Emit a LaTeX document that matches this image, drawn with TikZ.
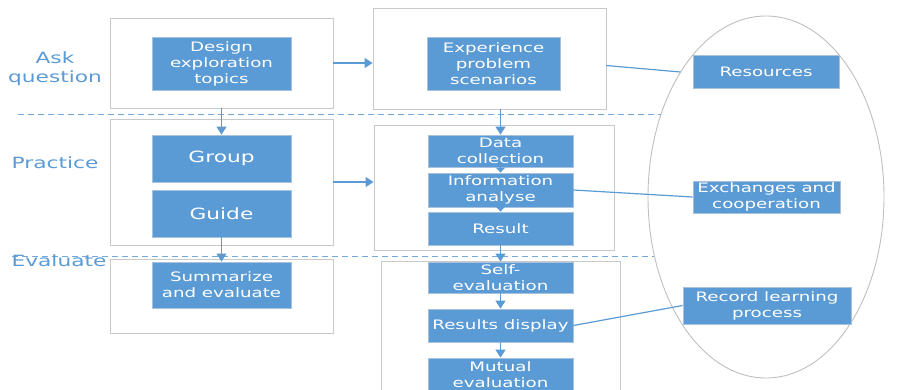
\documentclass[tikz,border=0pt]{standalone}
\usepackage{fontspec}
\setmainfont{DejaVu Sans}[FakeStretch=1.4]
\usetikzlibrary{arrows.meta,shapes.geometric,shadows}
\definecolor{bblue}{HTML}{5B9BD5}
\definecolor{bedge}{HTML}{A8C2DE}
\definecolor{ogrey}{HTML}{C9C9C9}
\definecolor{egrey}{HTML}{BFBFBF}
\begin{document}
\begin{tikzpicture}[x=1pt,y=-1pt,
  outerbox/.style={draw=ogrey, line width=0.9pt, fill=white, inner sep=0pt,
    drop shadow={shadow xshift=1.2pt,shadow yshift=-1.2pt,opacity=0.12,fill=black}},
  bbox/.style={draw=bedge, line width=0.8pt, fill=bblue, text=white, align=center,
    inner sep=0pt, font=\fontsize{13}{16}\selectfont},
  bigbox/.style={bbox, font=\fontsize{15.5}{19}\selectfont},
  lbl/.style={text=bblue, align=center, inner sep=0pt, font=\fontsize{15.5}{19}\selectfont},
  conn/.style={draw=bblue, line width=1.2pt},
  arr/.style={conn, -{Triangle[width=10pt,length=8pt]}},
  sarr/.style={conn, -{Triangle[width=9pt,length=5pt]}},
  sepline/.style={draw=bblue!85, line width=1pt, dash pattern=on 6pt off 4pt},
  oval/.style={ellipse, draw=egrey, line width=0.9pt, inner sep=0pt}
]
\useasboundingbox (0,0) rectangle (907,389);

% ellipse
\node[oval, minimum width=236pt, minimum height=362pt] (el) at (766,197) {};

% separators
\coordinate (s1a) at (18,114);
\coordinate (s1b) at (661,114);
\coordinate (s2a) at (12,256);
\coordinate (s2b) at (654,256);
\draw[sepline] (s1a) -- (s1b);
\draw[sepline] (s2a) -- (s2b);

% outer boxes
\node[outerbox, minimum width=223pt, minimum height=90pt] (A1) at (221.5,63) {};
\node[outerbox, minimum width=233pt, minimum height=101pt] (A2) at (489.5,58.5) {};
\node[outerbox, minimum width=223pt, minimum height=126pt] (P1) at (221.5,182) {};
\node[outerbox, minimum width=240pt, minimum height=125pt] (P2) at (494,187.5) {};
\node[outerbox, minimum width=223pt, minimum height=74pt] (E1) at (221.5,296) {};
\node[outerbox, minimum width=239pt, minimum height=139pt] (E2) at (500.5,330.5) {};

% labels
\node[lbl] (lAsk) at (55,69) {Ask\\question};
\node[lbl] (lPr) at (55,163) {Practice};
\node[lbl] (lEv) at (59,261) {Evaluate};

% blue boxes
\node[bbox, minimum width=139pt, minimum height=53pt] (D) at (221.5,63.5) {Design\\exploration\\topics};
\node[bbox, minimum width=133pt, minimum height=53pt] (X) at (493.5,63.5) {Experience\\problem\\scenarios};
\node[bbox, minimum width=146pt, minimum height=33pt] (R) at (766,71.5) {Resources};
\node[bigbox, minimum width=139pt, minimum height=47pt] (G) at (221.5,158.5) {Group};
\node[bigbox, minimum width=139pt, minimum height=47pt] (Gu) at (221.5,213.5) {Guide};
\node[bbox, minimum width=145pt, minimum height=32pt] (DC) at (500.5,151) {Data\\collection};
\node[bbox, minimum width=145pt, minimum height=34pt] (IA) at (500.5,190) {Information\\analyse};
\node[bbox, minimum width=145pt, minimum height=33pt] (RS) at (500.5,228.5) {Result};
\node[bbox, minimum width=147pt, minimum height=32pt] (EC) at (766.5,197) {Exchanges and\\cooperation};
\node[bbox, minimum width=139pt, minimum height=46pt] (SE) at (221.5,285) {Summarize\\and evaluate};
\node[bbox, minimum width=145pt, minimum height=31pt] (SF) at (500.5,277.5) {Self-\\evaluation};
\node[bbox, minimum width=145pt, minimum height=33pt] (RD) at (500.5,325.5) {Results display};
\node[bbox, minimum width=145pt, minimum height=34pt] (ME) at (500.5,375) {Mutual\\evaluation};
\node[bbox, minimum width=168pt, minimum height=37pt] (RL) at (767,305.5) {Record learning\\process};

% connectors
\coordinate (a2r) at (606,65.5);
\coordinate (elA) at (680.5,72);
\draw[conn] (a2r) -- (elA);
\draw[conn] (IA.east) -- (EC.west);
\draw[conn] (RD.east) -- (RL.west);

\draw[arr] (A1.east) -- (A1.east -| A2.west);
\draw[arr] (P1.east) -- (P1.east -| P2.west);
\draw[arr] (A1.south) -- (G.north);
\draw[arr] (Gu.south) -- (SE.north);
\draw[arr] (A2.south -| DC.north) -- (DC.north);
\draw[sarr] (DC.south) -- (IA.north);
\draw[sarr] (IA.south) -- (RS.north);
\draw[arr] (RS.south) -- (SF.north);
\draw[arr] (SF.south) -- (RD.north);
\draw[arr] (RD.south) -- (ME.north);
\end{tikzpicture}
\end{document}
